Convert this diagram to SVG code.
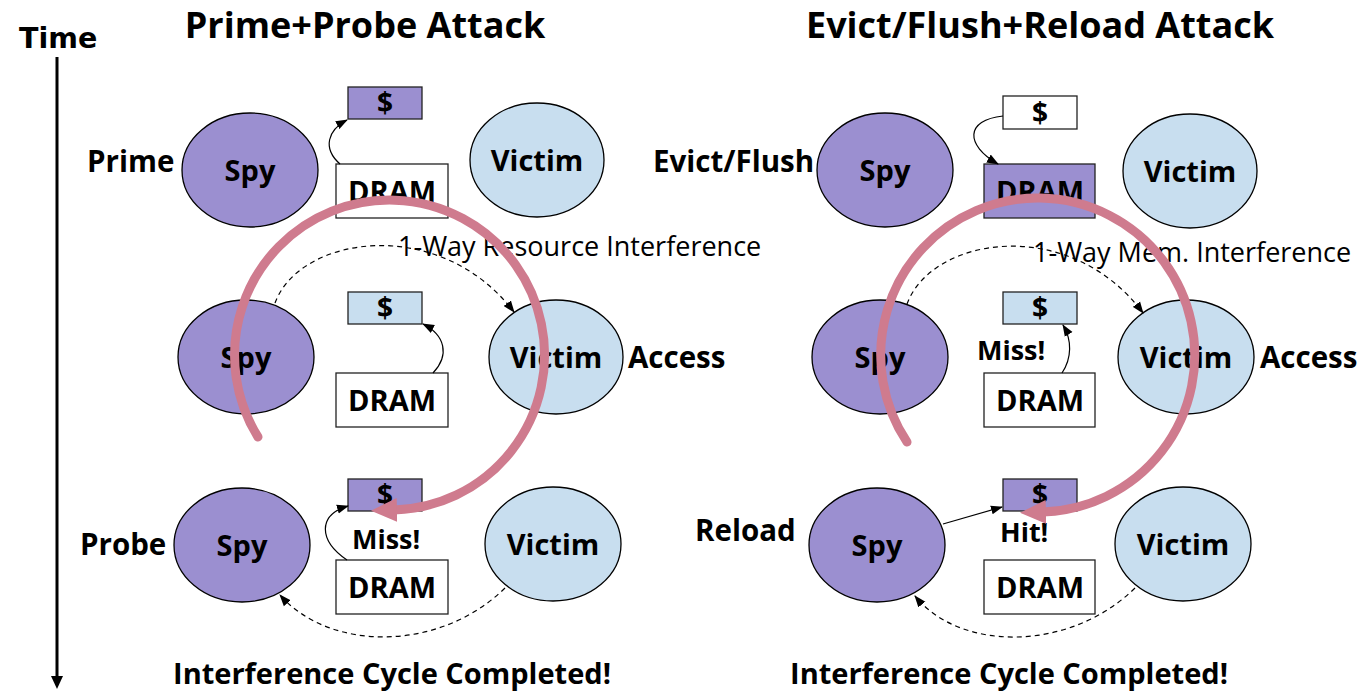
<svg xmlns="http://www.w3.org/2000/svg" width="1361" height="693" viewBox="0 0 1361 693">
  <style>
    .spy { fill: #9b8fd0; stroke: #000; stroke-width: 1.3; }
    .vic { fill: #c8deef; stroke: #000; stroke-width: 1.3; }
    .box { stroke: #222; stroke-width: 1.3; }
    .white { fill: #fff; }
    .purple { fill: #9b8fd0; }
    .blue { fill: #c8deef; }
    .lbl { font-family: "Open Sans", "Noto Sans", sans-serif; font-weight: bold; fill: #000; }
    .node { font-size: 29px; text-anchor: middle; }
    .cash { font-size: 28px; text-anchor: middle; }
    .side { font-size: 29.5px; }
    .note { font-size: 27px; }
    .title { font-size: 36px; text-anchor: middle; }
    .foot { font-size: 29px; text-anchor: middle; }
    .thin { font-family: "Open Sans", "Noto Sans", sans-serif; font-size: 27px; fill: #000; }
    .link { fill: none; stroke: #000; stroke-width: 1.2; marker-end: url(#tip); }
    .dash { fill: none; stroke: #000; stroke-width: 1.2; stroke-dasharray: 5 4; marker-end: url(#tip); }
    .cycle { fill: none; stroke: #cf7b8e; stroke-width: 9; stroke-linecap: round; marker-end: url(#bigtip); }
  </style>
  <defs>
    <marker id="tip" markerUnits="userSpaceOnUse" markerWidth="12" markerHeight="10" viewBox="0 0 12 10" refX="11" refY="5" orient="auto">
      <path d="M0,0.5 L12,5 L0,9.5 z" fill="#000"/>
    </marker>
    <marker id="bigtip" markerUnits="userSpaceOnUse" markerWidth="28" markerHeight="28" viewBox="0 0 28 28" refX="3" refY="14" orient="auto">
      <path d="M0,2 L26,14 L0,26 z" fill="#cf7b8e"/>
    </marker>
    <marker id="timetip" markerUnits="userSpaceOnUse" markerWidth="14" markerHeight="14" viewBox="0 0 14 14" refX="2" refY="7" orient="auto">
      <path d="M0,1 L13,7 L0,13 z" fill="#000"/>
    </marker>
  </defs>

  <rect width="1361" height="693" fill="#fff"/>

  <!-- time axis -->
  <g id="time-axis">
    <text x="19" y="48" font-family="DejaVu Sans, sans-serif" font-weight="bold" font-size="28.5">Time</text>
    <line x1="57" y1="57" x2="57" y2="678" stroke="#000" stroke-width="3" marker-end="url(#timetip)"/>
  </g>

  <!-- titles -->
  <text class="lbl title" x="365" y="38">Prime+Probe Attack</text>
  <text class="lbl title" x="1040" y="38">Evict/Flush+Reload Attack</text>

  <!-- Prime+Probe: step labels -->
  <text class="lbl side" x="87" y="172">Prime</text>
  <text class="lbl side" x="628" y="368">Access</text>
  <text class="lbl side" x="80" y="555">Probe</text>

  <!-- Prime+Probe: row 1 -->
  <g id="pp-spy1"><ellipse class="spy" cx="250" cy="170" rx="68" ry="57"/><text class="lbl node" x="250" y="181">Spy</text></g>
  <g id="pp-victim1"><ellipse class="vic" cx="537" cy="160" rx="67" ry="57"/><text class="lbl node" x="537" y="171">Victim</text></g>
  <g id="pp-cache1"><rect class="box purple" x="348" y="87" width="74" height="32"/><text class="lbl cash" x="385" y="113">$</text></g>
  <g id="pp-dram1"><rect class="box white" x="336" y="164" width="112" height="54"/><text class="lbl node" x="392" y="202">DRAM</text></g>

  <!-- Prime+Probe: row 2 -->
  <g id="pp-spy2"><ellipse class="spy" cx="246" cy="357" rx="68" ry="57"/><text class="lbl node" x="246" y="368">Spy</text></g>
  <g id="pp-victim2"><ellipse class="vic" cx="556" cy="357" rx="67" ry="57"/><text class="lbl node" x="556" y="368">Victim</text></g>
  <g id="pp-cache2"><rect class="box blue" x="348" y="292" width="74" height="32"/><text class="lbl cash" x="385" y="318">$</text></g>
  <g id="pp-dram2"><rect class="box white" x="336" y="373" width="112" height="54"/><text class="lbl node" x="392" y="411">DRAM</text></g>

  <!-- Prime+Probe: row 3 -->
  <g id="pp-spy3"><ellipse class="spy" cx="242" cy="545" rx="68" ry="57"/><text class="lbl node" x="242" y="556">Spy</text></g>
  <g id="pp-victim3"><ellipse class="vic" cx="553" cy="544" rx="68" ry="57"/><text class="lbl node" x="553" y="555">Victim</text></g>
  <g id="pp-cache3"><rect class="box purple" x="348" y="479" width="74" height="32"/><text class="lbl cash" x="385" y="505">$</text></g>
  <g id="pp-dram3"><rect class="box white" x="336" y="560" width="112" height="54"/><text class="lbl node" x="392" y="598">DRAM</text></g>

  <!-- Evict/Flush+Reload: step labels -->
  <text class="lbl side" x="653" y="172">Evict/Flush</text>
  <text class="lbl side" x="1260" y="368">Access</text>
  <text class="lbl side" x="695" y="541">Reload</text>

  <!-- Evict/Flush+Reload: row 1 -->
  <g id="fr-spy1"><ellipse class="spy" cx="885" cy="170" rx="68" ry="57"/><text class="lbl node" x="885" y="181">Spy</text></g>
  <g id="fr-victim1"><ellipse class="vic" cx="1190" cy="171" rx="67" ry="57"/><text class="lbl node" x="1190" y="182">Victim</text></g>
  <g id="fr-cache1"><rect class="box white" x="1003" y="96" width="74" height="33"/><text class="lbl cash" x="1040" y="123">$</text></g>
  <g id="fr-dram1"><rect class="box purple" x="984" y="164" width="111" height="54"/><text class="lbl node" x="1040" y="202">DRAM</text></g>

  <!-- Evict/Flush+Reload: row 2 -->
  <g id="fr-spy2"><ellipse class="spy" cx="880" cy="357" rx="68" ry="57"/><text class="lbl node" x="880" y="368">Spy</text></g>
  <g id="fr-victim2"><ellipse class="vic" cx="1186" cy="357" rx="68" ry="57"/><text class="lbl node" x="1186" y="368">Victim</text></g>
  <g id="fr-cache2"><rect class="box blue" x="1003" y="292" width="74" height="32"/><text class="lbl cash" x="1040" y="318">$</text></g>
  <g id="fr-dram2"><rect class="box white" x="984" y="373" width="111" height="54"/><text class="lbl node" x="1040" y="411">DRAM</text></g>

  <!-- Evict/Flush+Reload: row 3 -->
  <g id="fr-spy3"><ellipse class="spy" cx="877" cy="545" rx="68" ry="57"/><text class="lbl node" x="877" y="556">Spy</text></g>
  <g id="fr-victim3"><ellipse class="vic" cx="1183" cy="544" rx="68" ry="57"/><text class="lbl node" x="1183" y="555">Victim</text></g>
  <g id="fr-cache3"><rect class="box purple" x="1003" y="479" width="74" height="32"/><text class="lbl cash" x="1040" y="505">$</text></g>
  <g id="fr-dram3"><rect class="box white" x="984" y="560" width="111" height="54"/><text class="lbl node" x="1040" y="598">DRAM</text></g>

  <!-- connectors -->
  <g id="connectors">
    <!-- Prime+Probe -->
    <path class="link" d="M340,164 C322,148 328,130 347,120"/>
    <path class="link" d="M433,373 C450,355 445,335 423,324"/>
    <path class="link" d="M347,560 C318,540 318,515 348,506"/>
    <path class="dash" d="M275,303 C300,235 440,215 514,312"/>
    <path class="dash" d="M505,588 C440,652 330,652 280,595"/>
    <text class="thin" x="398" y="256">1-Way Resource Interference</text>
    <text class="lbl note" x="352" y="549">Miss!</text>

    <!-- Evict/Flush+Reload -->
    <path class="link" d="M1003,116 C965,120 965,145 998,164"/>
    <path class="link" d="M1062,373 C1072,358 1072,340 1063,325"/>
    <path class="link" d="M943,524 L1002,507"/>
    <path class="dash" d="M907,304 C932,236 1070,215 1143,313"/>
    <path class="dash" d="M1135,588 C1070,652 960,652 915,596"/>
    <text class="thin" x="1033" y="262">1-Way Mem. Interference</text>
    <text class="lbl note" x="977" y="360">Miss!</text>
    <text class="lbl note" x="1000" y="542">Hit!</text>

    <!-- interference cycles -->
    <path class="cycle" d="M258,437 A155,155 0 1 1 394,510"/>
    <path class="cycle" d="M907,442 A157,157 0 1 1 1043,512"/>
  </g>

  <!-- footers -->
  <text class="lbl foot" x="392" y="684">Interference Cycle Completed!</text>
  <text class="lbl foot" x="1009" y="684">Interference Cycle Completed!</text>
</svg>
